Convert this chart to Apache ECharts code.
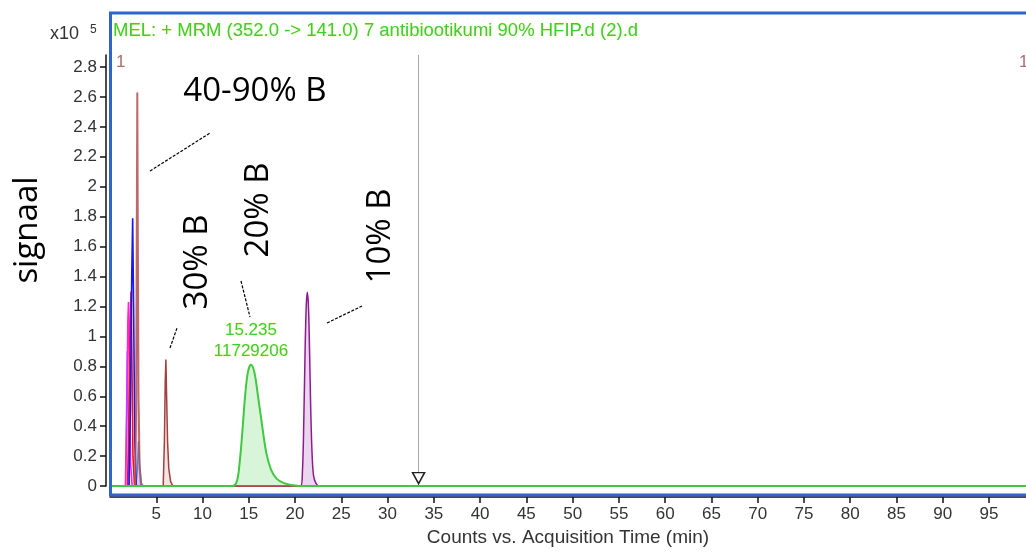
<!DOCTYPE html>
<html>
<head>
<meta charset="utf-8">
<title>MRM chromatogram</title>
<script src="https://cdn.jsdelivr.net/npm/echarts@6/dist/echarts.min.js"></script>
<style>
  html, body { margin: 0; padding: 0; background: #ffffff; }
  #chart { width: 1026px; height: 552px; }
</style>
</head>
<body>
<div id="chart"></div>
<script>
// Retention time (min) and signal (x10^5 counts), one trace per gradient run
const trace4090 = [[0,0],[2.7,0],[2.82,0.5],[2.9,1.8],[2.95,2.63],[3.0,1.8],[3.08,0.6],[3.2,0.12],[3.35,0],[40,0]];
const traceBlue = [[0,0],[2.05,0],[2.2,0.5],[2.35,1.4],[2.45,1.79],[2.55,1.2],[2.68,0.3],[2.85,0],[80,0]];
const traceRed = [[0,0],[1.9,0],[2.05,0.5],[2.18,1.1],[2.27,1.30],[2.36,0.9],[2.48,0.2],[2.65,0],[80,0]];
const traceMagenta = [[0,0],[1.7,0],[1.82,0.5],[1.93,1.1],[2.0,1.23],[2.1,0.8],[2.22,0.15],[2.4,0],[80,0]];
const traceSkyA = [[0,0],[1.65,0],[1.78,0.5],[1.86,0.9],[1.95,0.5],[2.1,0],[80,0]];
const traceSkyB = [[0,0],[2.8,0],[2.95,0.1],[3.08,0.30],[3.2,0.15],[3.4,0.02],[3.6,0],[80,0]];
const trace30 = [[0,0],[5.75,0],[5.88,0.3],[5.97,0.7],[6.04,0.846],[6.12,0.6],[6.22,0.3],[6.35,0.12],[6.55,0.03],[6.8,0],[40,0]];
const trace20 = [[0,0],[13.2,0],[13.7,0.03],[14.0,0.15],[14.3,0.36],[14.6,0.6],[14.9,0.76],[15.235,0.81],[15.6,0.76],[16.0,0.6],[16.45,0.4],[16.9,0.22],[17.4,0.11],[18.0,0.05],[18.8,0.02],[19.8,0.005],[20.6,0],[100,0]];
const trace10 = [[0,0],[20.6,0],[20.8,0.1],[20.95,0.45],[21.1,0.95],[21.22,1.22],[21.33,1.295],[21.45,1.2],[21.57,0.9],[21.7,0.5],[21.85,0.2],[22.0,0.07],[22.25,0.02],[22.6,0],[80,0]];

// Integrated peak of the 20% B run
const peak20Time = 15.235;
const peak20Height = 0.81;
const peak20Area = 11729206;

// Cursor position (min)
const cursorTime = 33.35;

// Axis ticks
const xTicks = [5,10,15,20,25,30,35,40,45,50,55,60,65,70,75,80,85,90,95];
const yTicks = [0,0.2,0.4,0.6,0.8,1,1.2,1.4,1.6,1.8,2,2.2,2.4,2.6,2.8];

const headerText = 'MEL: + MRM (352.0 -> 141.0) 7 antibiootikumi 90% HFIP.d (2).d';
const axisTitle = 'Counts vs. Acquisition Time (min)';
const yTitle = 'signaal';

const AX_FONT = '"Liberation Sans", Arial, sans-serif';
const BIG_FONT = '"Open Sans", "Noto Sans", sans-serif';

function trace(name, data, color, width, fill, smooth, z) {
  const s = {
    name: name,
    type: 'line',
    data: data,
    showSymbol: false,
    smooth: smooth ? 0.35 : false,
    z: z,
    lineStyle: { color: color, width: width },
    itemStyle: { color: color },
    silent: true,
    animation: false
  };
  if (fill) s.areaStyle = { color: fill, origin: 'start' };
  return s;
}

const series = [
  trace('sky A', traceSkyA, '#4a95ff', 1.4, null, false, 2),
  trace('sky B', traceSkyB, '#3d8cff', 1.4, 'rgba(80,150,255,0.25)', false, 2),
  trace('magenta', traceMagenta, '#ff1cff', 1.6, null, false, 3),
  trace('red', traceRed, '#ff1010', 1.6, null, false, 4),
  trace('blue', traceBlue, '#1818ee', 1.6, null, false, 5),
  trace('10% B', trace10, '#8e1a90', 1.5, 'rgba(170,90,180,0.35)', true, 6),
  trace('30% B', trace30, '#a2403d', 1.5, 'rgba(190,110,110,0.25)', false, 7),
  trace('40-90% B', trace4090, 'rgba(180,80,80,0.85)', 2, 'rgba(200,120,120,0.3)', false, 8),
  trace('20% B', trace20, '#40c840', 2, 'rgba(90,210,90,0.33)', true, 9)
];

// peak annotation on the 20% B trace
series[series.length - 1].markPoint = {
  silent: true,
  symbol: 'circle',
  symbolSize: 0,
  animation: false,
  label: {
    show: true,
    position: 'top',
    distance: 3,
    color: '#3ccc3c',
    fontFamily: AX_FONT,
    fontSize: 17,
    lineHeight: 21,
    textBorderColor: 'rgba(255,255,120,0.55)',
    textBorderWidth: 1,
    formatter: function () { return peak20Time.toFixed(3) + '\n' + peak20Area; }
  },
  data: [{ coord: [peak20Time, peak20Height] }]
};

// cursor line with its marker
series.push({
  name: 'cursor',
  type: 'line',
  data: [],
  silent: true,
  animation: false,
  z: 10,
  markLine: {
    silent: true,
    symbol: 'none',
    animation: false,
    label: { show: false },
    lineStyle: { color: '#a8a8a8', width: 1, type: 'solid' },
    data: [{ xAxis: cursorTime }]
  },
  markPoint: {
    silent: true,
    animation: false,
    symbol: 'triangle',
    symbolRotate: 180,
    symbolSize: [12, 11],
    symbolOffset: [0, -8],
    itemStyle: { color: '#ffffff', borderColor: '#222222', borderWidth: 1.5 },
    label: { show: false },
    data: [{ coord: [cursorTime, 0] }]
  }
});

const chart = echarts.init(document.getElementById('chart'), null, { renderer: 'canvas' });

chart.setOption({
  animation: false,
  backgroundColor: '#ffffff',
  grid: { left: 110, right: 0, top: 55, bottom: 64, containLabel: false },
  xAxis: {
    type: 'value',
    min: 0,
    max: 99,
    offset: 11,
    name: axisTitle,
    nameLocation: 'middle',
    nameGap: 28,
    nameTextStyle: { color: '#333333', fontFamily: AX_FONT, fontSize: 19 },
    axisLine: { show: true, onZero: false, lineStyle: { color: '#111111', width: 1.5 } },
    axisTick: { show: true, length: 6, lineStyle: { color: '#111111', width: 1.5 }, customValues: xTicks },
    axisLabel: { color: '#333333', fontFamily: AX_FONT, fontSize: 17, margin: 9, customValues: xTicks },
    splitLine: { show: false }
  },
  yAxis: {
    type: 'value',
    min: 0,
    max: 2.88,
    offset: 4,
    axisLine: { show: true, onZero: false, lineStyle: { color: '#111111', width: 1.5 } },
    axisTick: { show: true, length: 6, lineStyle: { color: '#111111', width: 1.5 }, customValues: yTicks },
    axisLabel: { color: '#333333', fontFamily: AX_FONT, fontSize: 17, margin: 9, customValues: yTicks },
    splitLine: { show: false }
  },
  graphic: [
    // data frame
    { type: 'rect', z: 100, silent: true,
      shape: { x: 110.5, y: 13, width: 930, height: 482 },
      style: { fill: 'none', stroke: '#2f66c9', lineWidth: 3 } },
    { type: 'text', z: 100, silent: true, x: 113, y: 31,
      style: { text: headerText, fill: '#3ccc3c', font: '18.5px ' + AX_FONT, textVerticalAlign: 'middle',
               stroke: 'rgba(255,255,120,0.5)', lineWidth: 1 } },
    { type: 'text', z: 100, silent: true, x: 116, y: 62,
      style: { text: '1', fill: '#b06a6a', font: '17px ' + AX_FONT, textVerticalAlign: 'middle' } },
    { type: 'text', z: 100, silent: true, x: 1019, y: 62,
      style: { text: '1', fill: '#b06a6a', font: '17px ' + AX_FONT, textVerticalAlign: 'middle' } },
    // exponent of the signal axis
    { type: 'text', z: 100, silent: true, x: 50, y: 34,
      style: { text: 'x10', fill: '#333333', font: '18px ' + AX_FONT, textVerticalAlign: 'middle' } },
    { type: 'text', z: 100, silent: true, x: 90, y: 30,
      style: { text: '5', fill: '#333333', font: '12px ' + AX_FONT, textVerticalAlign: 'middle' } },
    // signal axis title
    { type: 'text', z: 100, silent: true, x: 28, y: 230, rotation: Math.PI / 2,
      style: { text: yTitle, fill: '#000000', font: '33px ' + BIG_FONT, textAlign: 'center', textVerticalAlign: 'middle' } },
    // gradient labels
    { type: 'text', z: 100, silent: true, x: 255, y: 92,
      style: { text: '40-90% B', fill: '#000000', font: '33px ' + BIG_FONT, textAlign: 'center', textVerticalAlign: 'middle' } },
    { type: 'text', z: 100, silent: true, x: 198, y: 262, rotation: Math.PI / 2,
      style: { text: '30% B', fill: '#000000', font: '33px ' + BIG_FONT, textAlign: 'center', textVerticalAlign: 'middle' } },
    { type: 'text', z: 100, silent: true, x: 259, y: 210, rotation: Math.PI / 2,
      style: { text: '20% B', fill: '#000000', font: '33px ' + BIG_FONT, textAlign: 'center', textVerticalAlign: 'middle' } },
    { type: 'text', z: 100, silent: true, x: 381, y: 236, rotation: Math.PI / 2,
      style: { text: '10% B', fill: '#000000', font: '33px ' + BIG_FONT, textAlign: 'center', textVerticalAlign: 'middle' } },
    // leader lines
    { type: 'line', z: 100, silent: true, shape: { x1: 150, y1: 171, x2: 210, y2: 133 },
      style: { stroke: '#000000', lineWidth: 1.2, lineDash: [3, 1.5] } },
    { type: 'line', z: 100, silent: true, shape: { x1: 170, y1: 348, x2: 177, y2: 328 },
      style: { stroke: '#000000', lineWidth: 1.2, lineDash: [3, 1.5] } },
    { type: 'line', z: 100, silent: true, shape: { x1: 241, y1: 281, x2: 250, y2: 317 },
      style: { stroke: '#000000', lineWidth: 1.2, lineDash: [3, 1.5] } },
    { type: 'line', z: 100, silent: true, shape: { x1: 327, y1: 323, x2: 362, y2: 306 },
      style: { stroke: '#000000', lineWidth: 1.2, lineDash: [3, 1.5] } }
  ],
  series: series
});
</script>
</body>
</html>
